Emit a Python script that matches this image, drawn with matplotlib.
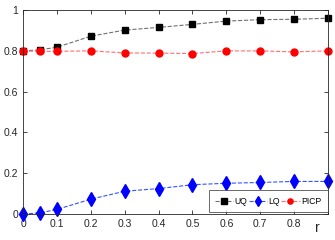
import matplotlib.pyplot as plt
from matplotlib.ticker import FuncFormatter

r = [0, 0.05, 0.1, 0.2, 0.3, 0.4, 0.5, 0.6, 0.7, 0.8, 0.9]
uq = [0.800, 0.805, 0.818, 0.872, 0.902, 0.915, 0.930, 0.946, 0.953, 0.955, 0.960]
lq = [0.000, 0.006, 0.023, 0.073, 0.112, 0.125, 0.144, 0.151, 0.155, 0.160, 0.160]
picp = [0.800, 0.797, 0.798, 0.800, 0.790, 0.789, 0.787, 0.800, 0.800, 0.795, 0.800]

plt.rcParams['font.family'] = ['Liberation Sans', 'DejaVu Sans']

fig = plt.figure(figsize=(3.35, 2.4), dpi=100)
ax = fig.add_axes([0.069, 0.108, 0.910, 0.850])

ax.plot(r, uq, linestyle='--', color='#707070', lw=0.8, marker='s', ms=5,
        mfc='black', mec='black', label='UQ', clip_on=False)
ax.plot(r, lq, linestyle='--', color='#3355ff', lw=0.8, marker='d', ms=7,
        mfc='#0000ff', mec='#0000ff', label='LQ', clip_on=False)
ax.plot(r, picp, linestyle='--', color='#ff7070', lw=0.8, marker='o', ms=5,
        mfc='#ff0000', mec='#ff0000', label='PICP', clip_on=False)

ax.set_xlim(0, 0.9)
ax.set_ylim(0, 1)
ax.set_xticks([0, 0.1, 0.2, 0.3, 0.4, 0.5, 0.6, 0.7, 0.8, 0.9])
ax.set_xticklabels(['0', '0.1', '0.2', '0.3', '0.4', '0.5', '0.6', '0.7', '0.8', ''])
ax.set_yticks([0, 0.2, 0.4, 0.6, 0.8, 1])
ax.yaxis.set_major_formatter(FuncFormatter(lambda v, p: '%g' % v))
ax.tick_params(direction='in', length=3, width=0.6, labelsize=7.5,
               colors='#262626', top=True, right=True)
for s in ax.spines.values():
    s.set_linewidth(0.6)
    s.set_color('#262626')

ax.text(0.87, -0.07, 'r', fontsize=10, color='#262626', ha='center', va='center')

leg = ax.legend(loc='lower right', ncol=3, fontsize=6.2, frameon=True, fancybox=False,
                edgecolor='#262626', handlelength=2.1, handletextpad=0.2,
                columnspacing=0.15, borderpad=0.75, markerscale=0.75,
                borderaxespad=0, bbox_to_anchor=(1.0, 0.01))
leg.get_frame().set_linewidth(0.6)

fig.savefig('out.png', dpi=100)
